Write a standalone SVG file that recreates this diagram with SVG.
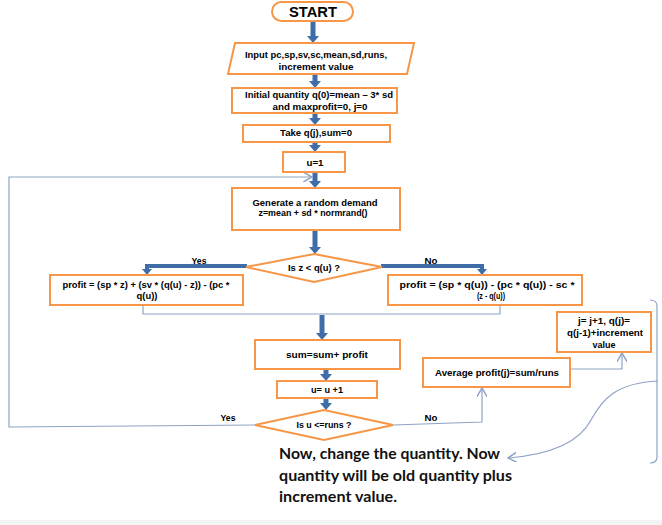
<svg xmlns="http://www.w3.org/2000/svg" width="662" height="525" viewBox="0 0 662 525">
<defs>
<style>
.box{fill:#fff;stroke:#f79646;stroke-width:2}
.t{font-family:"Liberation Sans",Arial,sans-serif;font-weight:bold;font-size:8.5px;fill:#000;text-anchor:middle}
.lbl{font-family:"Liberation Sans",Arial,sans-serif;font-weight:bold;font-size:8.5px;fill:#000;text-anchor:middle}
.big{font-family:Lato,"Liberation Sans",sans-serif;font-weight:bold;font-size:15.5px;fill:#111}
.thick{fill:none;stroke:#3e6da8;stroke-width:5;stroke-linejoin:miter}
.thin{fill:none;stroke:#8ea3c6;stroke-width:1.2}
</style>
<marker id="ah" markerUnits="userSpaceOnUse" markerWidth="12" markerHeight="12" viewBox="0 0 8 12" refX="1" refY="6" orient="auto">
<path d="M0,0 L7,6 L0,12 z" fill="#3e6da8"/>
</marker>
<marker id="ah2" markerUnits="userSpaceOnUse" markerWidth="10" markerHeight="10" viewBox="0 0 7 10" refX="1" refY="5" orient="auto">
<path d="M0,0 L6,5 L0,10 z" fill="#3e6da8"/>
</marker>
<marker id="oa" markerUnits="userSpaceOnUse" markerWidth="10" markerHeight="10" viewBox="0 0 8 8" refX="7" refY="4" orient="auto">
<path d="M0,0 L7,4 L0,8" fill="none" stroke="#8ea3c6" stroke-width="1.2"/>
</marker>
</defs>
<rect x="0" y="0" width="662" height="525" fill="#fff"/>
<rect x="0" y="520" width="662" height="5" fill="#f4f4f4"/>

<g id="connectors">
<line class="thick" x1="313" y1="21" x2="313" y2="37" marker-end="url(#ah)"/>
<line class="thick" x1="315" y1="73" x2="315" y2="82" marker-end="url(#ah)"/>
<line class="thick" x1="315" y1="113" x2="315" y2="119" marker-end="url(#ah)"/>
<line class="thick" x1="315" y1="142" x2="315" y2="146" marker-end="url(#ah)"/>
<line class="thick" x1="315" y1="172" x2="315" y2="182" marker-end="url(#ah)"/>
<line class="thick" x1="315" y1="230" x2="315" y2="248" marker-end="url(#ah)"/>
<path class="thick" style="stroke-width:4" d="M247,266 H147 V270" marker-end="url(#ah2)"/>
<path class="thick" style="stroke-width:4" d="M381,266 H482 V270" marker-end="url(#ah2)"/>
<path class="thin" d="M143,305 V314 H322"/>
<path class="thin" d="M500,305 V314 H322"/>
<line class="thick" x1="322" y1="315" x2="322" y2="334" marker-end="url(#ah)"/>
<line class="thick" x1="326" y1="369" x2="326" y2="375" marker-end="url(#ah)"/>
<line class="thick" x1="326" y1="398" x2="326" y2="404" marker-end="url(#ah)"/>
<path class="thin" d="M255,425 L9,427 V177 H312" marker-end="url(#oa)"/>
<path class="thin" d="M393,425 L482,422 V388" marker-end="url(#oa)"/>
<path class="thin" d="M570,369 H622 V353" marker-end="url(#oa)"/>
<path class="thin" d="M650,300 Q657,300 657,306 V457 Q657,463 650,463"/>
<path class="thin" d="M658,381 C615,383 602,400 591,420 C578,445 545,455 508,458" marker-end="url(#oa)"/>
</g>

<g id="start">
<rect class="box" x="272" y="2" width="81" height="19" rx="9.5"/>
<text x="313" y="17" font-family="Liberation Sans,Arial,sans-serif" font-weight="bold" font-size="15" text-anchor="middle" textLength="48" lengthAdjust="spacingAndGlyphs">START</text>
</g>
<g id="input">
<polygon class="box" points="235,43 414,43 407,74 228,74"/>
<text class="t" x="316" y="58" textLength="142" lengthAdjust="spacingAndGlyphs">Input pc,sp,sv,sc,mean,sd,runs,</text>
<text class="t" x="316" y="70" textLength="75" lengthAdjust="spacingAndGlyphs">increment  value</text>
</g>
<g id="init">
<rect class="box" x="232" y="88" width="165" height="25"/>
<text class="t" x="319" y="98" textLength="148" lengthAdjust="spacingAndGlyphs">Initial quantity q(0)=mean – 3* sd</text>
<text class="t" x="320" y="110" textLength="95" lengthAdjust="spacingAndGlyphs">and maxprofit=0, j=0</text>
</g>
<g id="take">
<rect class="box" x="243" y="125" width="147" height="17"/>
<text class="t" x="316" y="136" textLength="72" lengthAdjust="spacingAndGlyphs">Take q(j),sum=0</text>
</g>
<g id="u1">
<rect class="box" x="283" y="152" width="62" height="20"/>
<text class="t" x="315" y="166" textLength="17" lengthAdjust="spacingAndGlyphs">u=1</text>
</g>
<g id="generate">
<rect class="box" x="232" y="188" width="168" height="42"/>
<text class="t" x="315" y="206" textLength="125" lengthAdjust="spacingAndGlyphs">Generate a random demand</text>
<text class="t" x="313" y="216" textLength="109" lengthAdjust="spacingAndGlyphs">z=mean + sd * normrand()</text>
</g>
<g id="decision1">
<polygon class="box" points="314,254 382,267 314,282 246,267"/>
<text class="t" x="314" y="271" textLength="52" lengthAdjust="spacingAndGlyphs">Is z &lt; q(u) ?</text>
</g>
<g id="profitYes">
<rect class="box" x="50" y="275" width="193" height="30"/>
<text class="t" x="146" y="288" textLength="167" lengthAdjust="spacingAndGlyphs">profit = (sp * z) + (sv * (q(u) - z)) - (pc *</text>
<text class="t" x="147" y="299" textLength="21" lengthAdjust="spacingAndGlyphs">q(u))</text>
</g>
<g id="profitNo">
<rect class="box" x="388" y="275" width="194" height="30"/>
<text class="t" x="487" y="288" textLength="175" lengthAdjust="spacingAndGlyphs">profit = (sp * q(u)) - (pc * q(u)) - sc *</text>
<text class="t" x="491" y="299" textLength="28" lengthAdjust="spacingAndGlyphs">(z - q(u))</text>
</g>
<g id="sum">
<rect class="box" x="255" y="340" width="145" height="29"/>
<text class="t" x="327" y="358" textLength="82" lengthAdjust="spacingAndGlyphs">sum=sum+ profit</text>
</g>
<g id="uinc">
<rect class="box" x="277" y="381" width="100" height="17"/>
<text class="t" x="327" y="393" textLength="32" lengthAdjust="spacingAndGlyphs">u= u +1</text>
</g>
<g id="decision2">
<polygon class="box" points="324,410 393,425 324,440 255,425"/>
<text class="t" x="324" y="428" textLength="55" lengthAdjust="spacingAndGlyphs">Is u &lt;=runs ?</text>
</g>
<g id="average">
<rect class="box" x="423" y="358" width="147" height="29"/>
<text class="t" x="497" y="376" textLength="124" lengthAdjust="spacingAndGlyphs">Average profit(j)=sum/runs</text>
</g>
<g id="jinc">
<rect class="box" x="557" y="312" width="94" height="40"/>
<text class="t" x="604" y="324" textLength="52" lengthAdjust="spacingAndGlyphs">j= j+1, q(j)=</text>
<text class="t" x="605" y="336" textLength="76" lengthAdjust="spacingAndGlyphs">q(j-1)+increment</text>
<text class="t" x="604" y="348" textLength="23" lengthAdjust="spacingAndGlyphs">value</text>
</g>
<g id="labels">
<text class="lbl" x="199" y="264" textLength="15" lengthAdjust="spacingAndGlyphs">Yes</text>
<text class="lbl" x="431" y="264" textLength="13" lengthAdjust="spacingAndGlyphs">No</text>
<text class="lbl" x="228" y="421" textLength="15" lengthAdjust="spacingAndGlyphs">Yes</text>
<text class="lbl" x="431" y="421" textLength="13" lengthAdjust="spacingAndGlyphs">No</text>
</g>
<g id="note">
<text class="big" x="279" y="459" textLength="221" lengthAdjust="spacingAndGlyphs">Now, change the quantity. Now</text>
<text class="big" x="279" y="481" textLength="233" lengthAdjust="spacingAndGlyphs">quantity will be old quantity plus</text>
<text class="big" x="279" y="502" textLength="118" lengthAdjust="spacingAndGlyphs">increment value.</text>
</g>
</svg>
